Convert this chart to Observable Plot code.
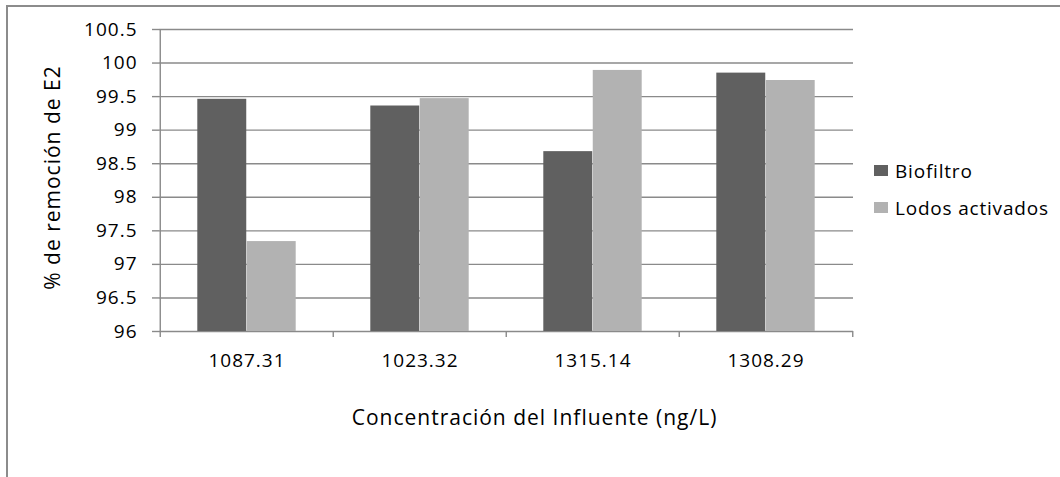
<!DOCTYPE html>
<html><head><meta charset="utf-8">
<script src="https://cdn.jsdelivr.net/npm/d3@7"></script>
<script src="https://cdn.jsdelivr.net/npm/@observablehq/plot@0.6"></script>
<style>
body{margin:0;background:#fff;}
#chart{position:relative;width:1060px;height:477px;overflow:hidden;font-family:"Open Sans",sans-serif;}
#border{position:absolute;left:6px;top:5px;width:1200px;height:600px;border-left:2px solid #8c8c8c;border-top:2px solid #8c8c8c;}
#legend{position:absolute;left:874px;top:152px;font-size:19px;letter-spacing:0.8px;color:#000;}
.item{display:flex;align-items:center;height:37px;}
.sw{width:14px;height:11px;margin-right:7px;}
svg{position:absolute;left:0;top:0;}
</style></head><body>
<div id="chart"><div id="border"></div></div>
<script>
const categories = ["1087.31", "1023.32", "1315.14", "1308.29"];
const seriesNames = ["Biofiltro", "Lodos activados"];
const biofiltro = [99.46, 99.36, 98.68, 99.85];
const lodosActivados = [97.34, 99.47, 99.89, 99.74];
const yTicks = [96, 96.5, 97, 97.5, 98, 98.5, 99, 99.5, 100, 100.5];
const seriesColors = ["#606060", "#b2b2b2"];
const yLabel = "% de remoción de E2";
const xLabel = "Concentración del Influente (ng/L)";

const rows = [];
categories.forEach((c, i) => {
  rows.push({cat: c, series: seriesNames[0], value: biofiltro[i]});
  rows.push({cat: c, series: seriesNames[1], value: lodosActivados[i]});
});

const W = 1060, H = 477, mL = 159, mR = 207, mT = 29, mB = 146;
const step = (W - mL - mR) / categories.length;
const barW = step * 0.285;
const outer = (step - 2 * barW) / 2;
const yMin = yTicks[0], yMax = yTicks[yTicks.length - 1];
const gridColor = "#8a8a8a";

const plot = Plot.plot({
  width: W, height: H,
  marginLeft: mL, marginRight: mR, marginTop: mT, marginBottom: mB,
  style: {fontFamily: "'Open Sans', sans-serif", fontSize: "19px", letterSpacing: "1px", color: "#000", background: "transparent"},
  x: {domain: categories, padding: 0, axis: null, label: null},
  y: {domain: [yMin, yMax], axis: null, label: null},
  color: {domain: seriesNames, range: seriesColors},
  marks: [
    Plot.gridY(yTicks, {stroke: gridColor, strokeOpacity: 1, strokeWidth: 1.4}),
    Plot.barY(rows.filter(d => d.series === seriesNames[0]), {
      x: "cat", y1: () => yMin, y2: "value", fill: "series",
      insetLeft: outer, insetRight: step - outer - barW
    }),
    Plot.barY(rows.filter(d => d.series === seriesNames[1]), {
      x: "cat", y1: () => yMin, y2: "value", fill: "series",
      insetLeft: outer + barW, insetRight: outer
    }),
    Plot.ruleX(categories.slice(0, 1), {x: d => d, dx: -step / 2, y1: () => yMax, y2: () => yMin, insetBottom: -6, stroke: gridColor, strokeWidth: 1.4}),
    Plot.ruleX(categories.slice(1), {x: d => d, dx: -step / 2, y1: () => yMin, y2: () => yMin, insetBottom: -6, stroke: gridColor, strokeWidth: 1.4}),
    Plot.ruleX(categories.slice(-1), {x: d => d, dx: step / 2, y1: () => yMin, y2: () => yMin, insetBottom: -6, stroke: gridColor, strokeWidth: 1.4}),
    Plot.axisY(yTicks, {tickSize: 7, tickPadding: 15, tickFormat: d => String(d), label: null, stroke: gridColor, strokeWidth: 1.4, fontSize: 19, fill: "#000"}),
    Plot.axisX({tickSize: 0, tickPadding: 22, label: null, fontSize: 19, fill: "#000"}),
    Plot.text([yLabel], {frameAnchor: "left", textAnchor: "middle", rotate: -90, dx: -106, dy: -3, fontSize: 21, fill: "#000", ariaLabel: "ytitle"}),
    Plot.text([xLabel], {frameAnchor: "bottom", textAnchor: "middle", dx: 28, dy: 93, fontSize: 21, fill: "#000", ariaLabel: "xtitle"})
  ]
});
d3.select(plot).selectAll('g[aria-label="xtitle"] text, g[aria-label="ytitle"] text').style("letter-spacing", "2.1px");
document.getElementById("chart").appendChild(plot);

const legend = document.createElement("div");
legend.id = "legend";
seriesNames.forEach((s, i) => {
  const it = document.createElement("div");
  it.className = "item";
  const sw = document.createElement("span");
  sw.className = "sw";
  sw.style.background = seriesColors[i];
  const tx = document.createElement("span");
  tx.textContent = s;
  it.appendChild(sw); it.appendChild(tx);
  legend.appendChild(it);
});
document.getElementById("chart").appendChild(legend);
</script>
</body></html>
